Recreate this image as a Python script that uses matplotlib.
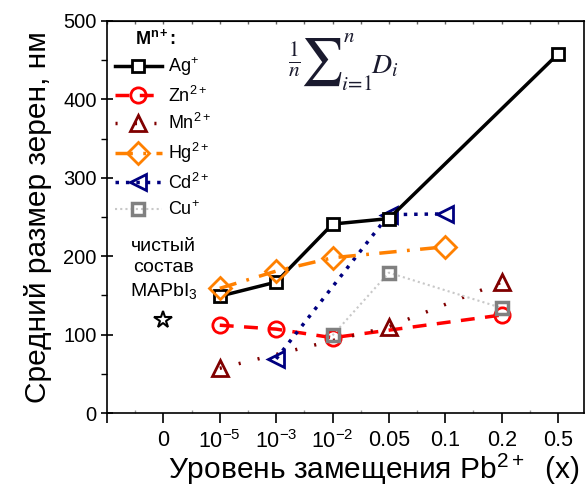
import numpy as np
import matplotlib.pyplot as plt

plt.rcParams['font.family'] = ['Liberation Sans', 'DejaVu Sans']
plt.rcParams['mathtext.fontset'] = 'custom'
plt.rcParams['mathtext.rm'] = 'Liberation Sans'
plt.rcParams['mathtext.it'] = 'Liberation Sans:italic'
plt.rcParams['mathtext.bf'] = 'Liberation Sans:bold'

# categories on the x axis (equally spaced)
cats = ['0', '1e-5', '1e-3', '1e-2', '0.05', '0.1', '0.2', '0.5']
cat_labels = ['0', '$10^{-5}$', '$10^{-3}$', '$10^{-2}$', '0.05', '0.1', '0.2', '0.5']

ag_x = ['1e-5', '1e-3', '1e-2', '0.05', '0.5']
ag_y = [149, 167, 241, 248, 458]
zn_x = ['1e-5', '1e-3', '1e-2', '0.2']
zn_y = [112, 107, 96, 125]
mn_x = ['1e-5', '0.05', '0.2']
mn_y = [57, 110, 167]
hg_x = ['1e-5', '1e-3', '1e-2', '0.1']
hg_y = [159, 181, 198, 212]
cd_x = ['1e-3', '0.05', '0.1']
cd_y = [69, 253, 254]
cu_x = ['1e-2', '0.05', '0.2']
cu_y = [99, 179, 134]
pure_x = ['0']
pure_y = [119]


def pos(xs):
    return [cats.index(x) for x in xs]


fig = plt.figure(figsize=(5.86, 4.86), dpi=100)
ax = fig.add_axes([0.1826, 0.1502, 0.8140, 0.8066])

ax.plot(pos(ag_x), ag_y, color='black', lw=2.5, ls='-', marker='s', ms=9,
        mfc='white', mec='black', mew=2, label='Ag$^{+}$', zorder=6)
ax.plot(pos(zn_x), zn_y, color='#ff0000', lw=2.5, ls=(0, (4, 3)), marker='o', ms=11,
        mfc='none', mec='#ff0000', mew=2, label='Zn$^{2+}$', zorder=3)
ax.plot(pos(mn_x), mn_y, color='#800000', lw=2.5, ls=(0, (0.6, 5)), marker='^', ms=12,
        mfc='none', mec='#800000', mew=2, label='Mn$^{2+}$', zorder=3)
ax.plot(pos(hg_x), hg_y, color='#ff8000', lw=2.5, ls=(0, (5, 3, 0.8, 3)), marker='D', ms=11,
        mfc='none', mec='#ff8000', mew=2, label='Hg$^{2+}$', zorder=7)
ax.plot(pos(cd_x), cd_y, color='#000080', lw=2.5, ls=(0, (1, 2)), marker='<', ms=12,
        mfc='none', mec='#000080', mew=2, label='Cd$^{2+}$', zorder=5)
ax.plot(pos(cu_x), cu_y, color='#c8c8c8', lw=1.5, ls=(0, (1, 1.5)), marker='s', ms=9,
        mfc='none', mec='#808080', mew=2.5, label='Cu$^{+}$', zorder=4)
ax.plot(pos(pure_x), pure_y, ls='none', marker='*', ms=13, mfc='white', mec='black',
        mew=1.5, zorder=8)

ax.set_xlim(-1, 7.46)
ax.set_ylim(0, 500)
ax.set_xticks(range(-1, 8))
ax.set_xticklabels([''] + cat_labels)
ax.set_xticks(np.arange(-0.5, 7.5, 1), minor=True)
ax.set_yticks(np.arange(0, 501, 100))
ax.set_yticks(np.arange(50, 500, 100), minor=True)
ax.tick_params(axis='x', which='major', direction='out', length=7, width=1.2,
               labelsize=15.5, pad=5)
ax.tick_params(axis='x', which='minor', direction='in', length=2, width=1, color='#999999')
ax.tick_params(axis='y', which='major', direction='inout', length=9, width=1.2,
               labelsize=14.5, pad=3)
ax.tick_params(axis='y', which='minor', direction='out', length=4, width=1)
for s in ax.spines.values():
    s.set_linewidth(1.2)

top = ax.secondary_xaxis('top')
top.set_xticks(np.arange(-1, 7.5, 0.5))
top.set_xticklabels([])
top.tick_params(direction='in', length=2, width=1, color='#666666')

ax.set_ylabel('Средний размер зерен, нм', fontsize=21.5, labelpad=8)
ax.set_xlabel('Уровень замещения Pb$^{2+}$  (x)', fontsize=21.5)
ax.xaxis.set_label_coords(0.56, -0.1)

leg = ax.legend(loc='upper left', bbox_to_anchor=(-0.01, 0.945), frameon=False,
                fontsize=13, handlelength=2.6, handletextpad=0.35, labelspacing=0.42,
                borderaxespad=0.3)
ax.text(0.059, 0.957, 'M$^{\\mathbf{n+}}$:', transform=ax.transAxes, fontsize=13,
        fontweight='bold', va='center', ha='left')

ax.text(0, 183, 'чистый\nсостав\nMAPbI$_3$', ha='center', va='center', fontsize=14,
        linespacing=1.3)

# formula (1/n) sum_{i=1}^{n} D_i, built from pieces so the limits sit to the right
fx = lambda px: px / 586
fy = lambda py: 1 - py / 486
fcol = '#1a1a2e'
fig.text(fx(294), fy(60), r'$\frac{1}{n}$', ha='center', va='center', fontsize=22,
         math_fontfamily='stix', color=fcol)
fig.text(fx(321), fy(62), r'$\sum$', ha='center', va='center', fontsize=34,
         math_fontfamily='stix', color=fcol)
fig.text(fx(349), fy(37), r'$n$', ha='center', va='center', fontsize=15,
         math_fontfamily='stix', color=fcol)
fig.text(fx(357), fy(84), r'$i\!=\!1$', ha='center', va='center', fontsize=15,
         math_fontfamily='stix', color=fcol)
fig.text(fx(385), fy(66), r'$D_i$', ha='center', va='center', fontsize=20,
         math_fontfamily='stix', color=fcol)

fig.savefig('out.png', dpi=100)
